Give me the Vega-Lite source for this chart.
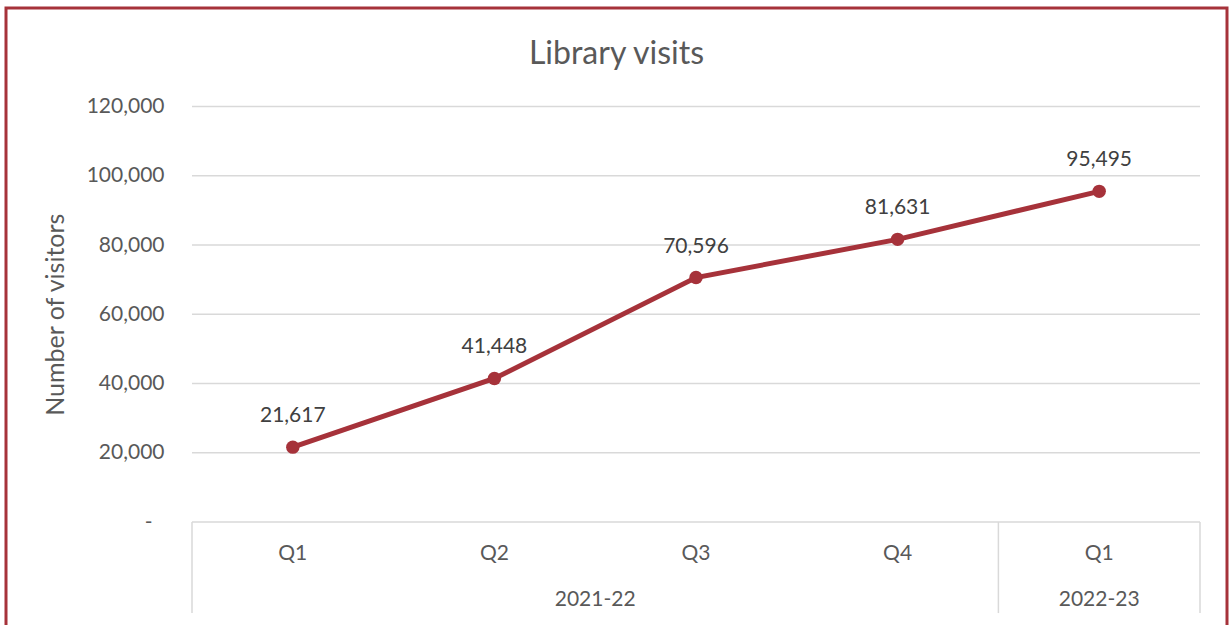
{
  "$schema": "https://vega.github.io/schema/vega-lite/v6.json",
  "autosize": "none",
  "width": 1221,
  "height": 621,
  "padding": {"left": 6, "top": 8, "right": 2, "bottom": -4},
  "config": {
    "view": {"stroke": "#A6323A", "strokeWidth": 3},
    "font": "Lato"
  },
  "title": {
    "text": "Library visits",
    "fontSize": 32,
    "font": "Lato",
    "fontWeight": "normal",
    "color": "#595959",
    "anchor": "middle",
    "baseline": "alphabetic",
    "offset": -88
  },
  "datasets": {
    "visits": [
      {"period": "2021-22 Q1", "year": "2021-22", "visits": 21617},
      {"period": "2021-22 Q2", "year": "2021-22", "visits": 41448},
      {"period": "2021-22 Q3", "year": "2021-22", "visits": 70596},
      {"period": "2021-22 Q4", "year": "2021-22", "visits": 81631},
      {"period": "2022-23 Q1", "year": "2022-23", "visits": 95495}
    ],
    "grid": [
      {"v": 0}, {"v": 20000}, {"v": 40000}, {"v": 60000}, {"v": 80000}, {"v": 100000}, {"v": 120000}
    ]
  },
  "layer": [
    {
      "data": {"name": "grid"},
      "mark": {"type": "rule", "color": "#D9D9D9", "strokeWidth": 1.5},
      "encoding": {
        "y": {"field": "v", "type": "quantitative"},
        "x": {"datum": "2021-22 Q1", "type": "nominal", "bandPosition": 0},
        "x2": {"datum": "2022-23 Q1", "bandPosition": 1}
      }
    },
    {
      "data": {"values": [{"edge": "2021-22 Q1"}, {"edge": "2022-23 Q1"}]},
      "mark": {"type": "rule", "color": "#D9D9D9", "strokeWidth": 1.5, "clip": false},
      "encoding": {
        "x": {"field": "edge", "type": "nominal", "bandPosition": 0},
        "y": {"datum": 0, "type": "quantitative"},
        "y2": {"datum": -26300}
      }
    },
    {
      "data": {"values": [{"edge": "2022-23 Q1"}]},
      "mark": {"type": "rule", "color": "#D9D9D9", "strokeWidth": 1.5, "clip": false},
      "encoding": {
        "x": {"field": "edge", "type": "nominal", "bandPosition": 1},
        "y": {"datum": 0, "type": "quantitative"},
        "y2": {"datum": -26300}
      }
    },
    {
      "data": {"values": [{"year": "2021-22"}]},
      "mark": {"type": "text", "fontSize": 21, "color": "#595959", "baseline": "middle", "align": "center", "dy": 78, "clip": false},
      "encoding": {
        "x": {"datum": "2021-22 Q3", "type": "nominal", "bandPosition": 0},
        "y": {"datum": 0, "type": "quantitative"},
        "text": {"field": "year"}
      }
    },
    {
      "data": {"values": [{"year": "2022-23"}]},
      "mark": {"type": "text", "fontSize": 21, "color": "#595959", "baseline": "middle", "align": "center", "dy": 78, "clip": false},
      "encoding": {
        "x": {"datum": "2022-23 Q1", "type": "nominal", "bandPosition": 0.5},
        "y": {"datum": 0, "type": "quantitative"},
        "text": {"field": "year"}
      }
    },
    {
      "data": {"name": "visits"},
      "mark": {"type": "line", "color": "#A6323A", "strokeWidth": 5},
      "encoding": {
        "x": {
          "field": "period",
          "type": "nominal",
          "sort": null,
          "scale": {
            "domain": ["2021-22 Q1", "2021-22 Q2", "2021-22 Q3", "2021-22 Q4", "2022-23 Q1"],
            "range": [186, 1194],
            "paddingInner": 0,
            "paddingOuter": 0
          },
          "axis": {
            "orient": "bottom",
            "offset": -107,
            "title": null,
            "domain": false,
            "ticks": false,
            "grid": false,
            "labelAngle": 0,
            "labelAlign": "center",
            "labelExpr": "split(datum.label, ' ')[1]",
            "labelFontSize": 21,
            "labelColor": "#595959",
            "labelPadding": 31,
            "labelFont": "Lato"
          }
        },
        "y": {
          "field": "visits",
          "type": "quantitative",
          "scale": {"domain": [0, 120000], "range": [514, 98.5], "nice": false, "zero": true},
          "axis": {
            "orient": "left",
            "offset": -186,
            "title": "Number of visitors",
            "titleFontSize": 25,
            "titleColor": "#595959",
            "titleFontWeight": "normal",
            "titleFont": "Lato",
            "titlePadding": 18,
            "domain": false,
            "ticks": false,
            "grid": false,
            "values": [0, 20000, 40000, 60000, 80000, 100000, 120000],
            "labelExpr": "datum.value === 0 ? '-' : format(datum.value, ',')",
            "labelFontSize": 21,
            "labelColor": "#595959",
            "labelPadding": {"condition": {"test": "datum.value === 0", "value": 40}, "value": 28},
            "labelFont": "Lato"
          }
        }
      }
    },
    {
      "data": {"name": "visits"},
      "mark": {"type": "circle", "color": "#A6323A", "size": 180, "opacity": 1},
      "encoding": {
        "x": {"field": "period", "type": "nominal", "sort": null},
        "y": {"field": "visits", "type": "quantitative"}
      }
    },
    {
      "data": {"name": "visits"},
      "mark": {"type": "text", "fontSize": 21, "color": "#404040", "baseline": "alphabetic", "align": "center", "dy": -25},
      "encoding": {
        "x": {"field": "period", "type": "nominal", "sort": null},
        "y": {"field": "visits", "type": "quantitative"},
        "text": {"field": "visits", "type": "quantitative", "format": ","}
      }
    }
  ]
}
